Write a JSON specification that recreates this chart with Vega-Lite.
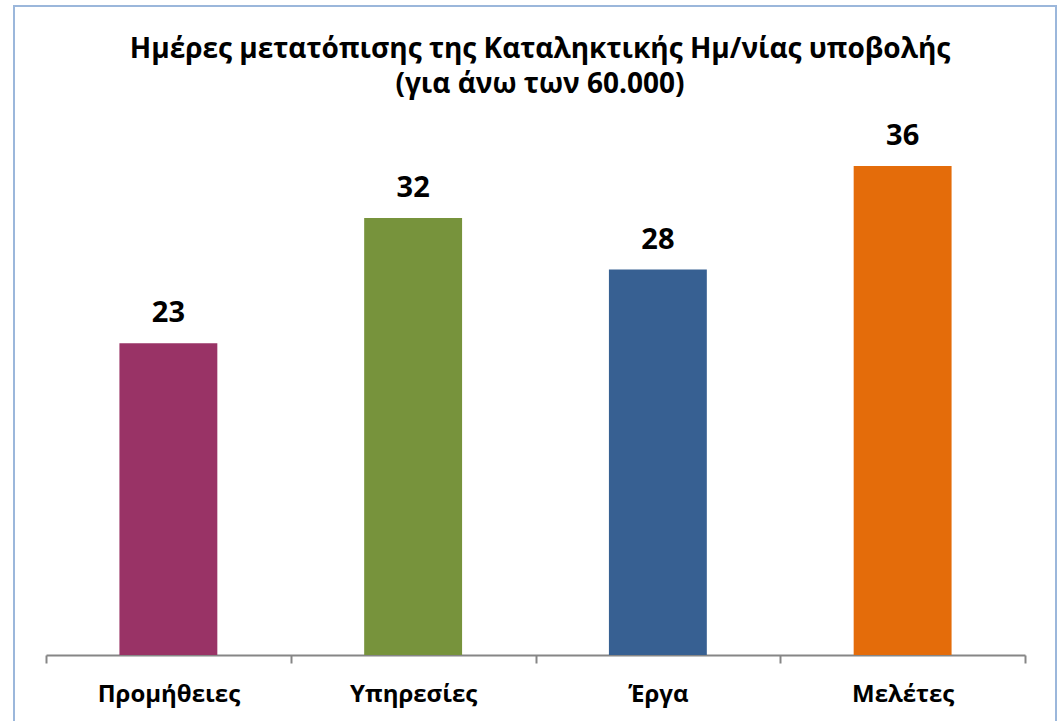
{
  "$schema": "https://vega.github.io/schema/vega-lite/v6.json",
  "width": 1042,
  "height": 716,
  "autosize": {"type": "none"},
  "padding": {"left": 14, "top": 6, "right": 4, "bottom": 0},
  "background": "white",
  "config": {"view": {"stroke": "#9BB7DB", "strokeWidth": 2}, "font": "Open Sans"},
  "title": {
    "text": ["Ημέρες μετατόπισης της Καταληκτικής Ημ/νίας υποβολής", "(για άνω των 60.000)"],
    "font": "Open Sans",
    "fontSize": 28,
    "fontWeight": "bold",
    "color": "black",
    "anchor": "middle",
    "frame": "group",
    "offset": -115,
    "dx": 5,
    "lineHeight": 35,
    "baseline": "alphabetic"
  },
  "data": {
    "values": [
      {"category": "Προμήθειες", "days": 23.0},
      {"category": "Υπηρεσίες", "days": 32.25},
      {"category": "Έργα", "days": 28.45},
      {"category": "Μελέτες", "days": 36.1}
    ]
  },
  "encoding": {
    "x": {
      "field": "category",
      "type": "nominal",
      "sort": null,
      "scale": {"range": [32, 1011], "paddingInner": 0, "paddingOuter": 0},
      "axis": {
        "title": null,
        "labelAngle": 0,
        "tickBand": "extent",
        "domainColor": "#868686",
        "domainWidth": 2,
        "tickColor": "#868686",
        "tickWidth": 2,
        "tickSize": 8,
        "labelFont": "Open Sans",
        "labelFontSize": 24,
        "labelFontWeight": "bold",
        "labelColor": "black",
        "labelBaseline": "alphabetic",
        "labelPadding": 38,
        "offset": -67,
        "grid": false
      }
    }
  },
  "layer": [
    {
      "mark": {"type": "bar", "width": {"band": 0.4}},
      "encoding": {
        "y": {"field": "days", "type": "quantitative", "scale": {"domain": [-4.945, 47.9], "nice": false, "zero": false}, "axis": null},
        "y2": {"datum": 0},
        "color": {
          "field": "category",
          "type": "nominal",
          "scale": {"domain": ["Προμήθειες", "Υπηρεσίες", "Έργα", "Μελέτες"], "range": ["#993366", "#77933C", "#376092", "#E46C0A"]},
          "legend": null
        }
      }
    },
    {
      "mark": {"type": "text", "baseline": "alphabetic", "dy": -21, "fontSize": 29, "fontWeight": "bold", "font": "Open Sans", "color": "black"},
      "encoding": {
        "y": {"field": "days", "type": "quantitative"},
        "text": {"field": "days", "type": "quantitative", "format": ".0f"}
      }
    }
  ]
}
